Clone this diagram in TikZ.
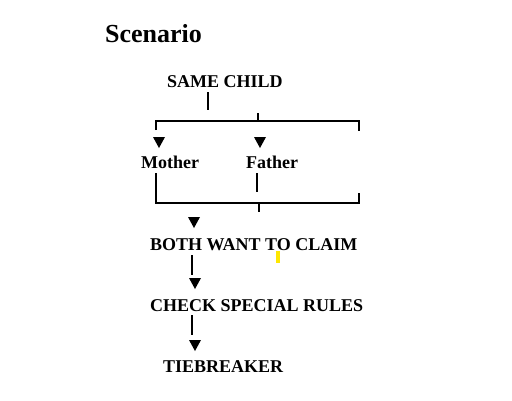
\documentclass[tikz,border=0pt]{standalone}
\usepackage{fontspec}
\setmainfont{Liberation Serif}
\begin{document}
\begin{tikzpicture}[x=1pt,y=-1pt,
  lbl/.style={anchor=base west,inner sep=0pt,font=\fontsize{18}{20}\selectfont\bfseries},
  ttl/.style={anchor=base west,inner sep=0pt,font=\fontsize{26}{28}\selectfont\bfseries},
  ln/.style={line width=1.3pt,line cap=butt},
  tri/.style={fill=black}]
\useasboundingbox (0,0) rectangle (512,400);
\fill[white] (0,0) rectangle (512,400);
% texts
\node[ttl] (title) at (105,42) {Scenario};
\node[lbl] (same) at (167,87) {SAME CHILD};
\node[lbl] (mother) at (141,168) {Mother};
\node[lbl] (father) at (246,168) {Father};
\node[lbl] (both) at (150,250) {BOTH WANT TO CLAIM};
\node[lbl] (check) at (150,311) {CHECK SPECIAL RULES};
\node[lbl] (tie) at (163,372) {TIEBREAKER};
% coordinates
\coordinate (s1) at (208,92);
\coordinate (s2) at (208,110);
\coordinate (tl) at (156,121);
\coordinate (tr) at (359,121);
\coordinate (tld) at (156,130);
\coordinate (trd) at (359,131);
\coordinate (tt) at (258,113);
\coordinate (ttb) at (258,121);
\coordinate (m1) at (156,173);
\coordinate (bl) at (156,203);
\coordinate (br) at (359,203);
\coordinate (bru) at (359,193);
\coordinate (f1) at (257,173);
\coordinate (f2) at (257,192);
\coordinate (bt) at (259,203);
\coordinate (btd) at (259,212);
\coordinate (c1) at (192,255);
\coordinate (c2) at (192,275);
\coordinate (d1) at (192,315);
\coordinate (d2) at (192,335);
% lines
\draw[ln] (s1) -- (s2);
\draw[ln] (tld) -- (tl) -- (tr) -- (trd);
\draw[ln] (tt) -- (ttb);
\draw[ln] (m1) -- (bl) -- (br) -- (bru);
\draw[ln] (f1) -- (f2);
\draw[ln] (bt) -- (btd);
\draw[ln] (c1) -- (c2);
\draw[ln] (d1) -- (d2);
% triangles
\coordinate (a1) at (159,137);
\coordinate (a2) at (260,137);
\coordinate (a3) at (194,217);
\coordinate (a4) at (195,278);
\coordinate (a5) at (195,340);
\foreach \a in {a1,a2,a3,a4,a5}{
  \fill[tri] (\a) ++(-6,0) -- ++(12,0) -- ++(-6,11) -- cycle;
}
% yellow mark
\fill[yellow!90!orange] (276,251) rectangle (280,263);
\end{tikzpicture}
\end{document}
